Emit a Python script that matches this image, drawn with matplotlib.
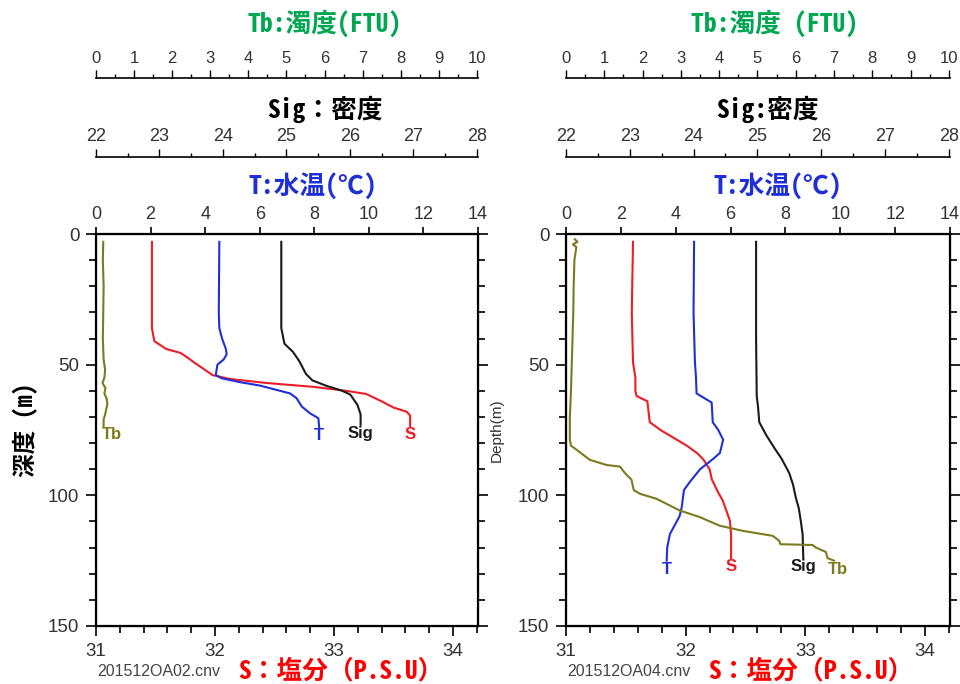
import numpy as np
import matplotlib
matplotlib.use("Agg")
import matplotlib.pyplot as plt
from matplotlib.ticker import MultipleLocator

# ---- data: 201512OA02 ----
oa02_S_depth = [3, 36, 41, 44, 45.5, 47, 49, 51.5, 54, 55.5, 57, 58.5, 60, 61.2, 63.8, 66.4, 68, 69.5, 73.5]
oa02_S = [31.47, 31.47, 31.49, 31.59, 31.71, 31.76, 31.82, 31.90, 31.98, 32.13, 32.43, 32.83, 33.10, 33.27, 33.39, 33.50, 33.61, 33.64, 33.64]
oa02_T_depth = [3, 30, 36, 40, 44, 46, 48, 50, 54, 55.2, 56.7, 58, 60, 61, 62.8, 66, 68.6, 70.5, 74]
oa02_T = [4.52, 4.50, 4.52, 4.62, 4.76, 4.79, 4.68, 4.45, 4.39, 4.60, 5.28, 6.01, 6.74, 7.11, 7.35, 7.54, 7.84, 8.15, 8.18]
oa02_Sig_depth = [3, 36, 42, 45, 48.5, 53.6, 56, 58, 60, 61.5, 65.4, 69, 73]
oa02_Sig = [24.92, 24.92, 24.97, 25.10, 25.20, 25.31, 25.41, 25.62, 25.88, 26.01, 26.12, 26.17, 26.17]
oa02_Tb_depth = [3, 10, 20, 30, 40, 48, 52, 55, 57, 59, 61, 63, 65, 67, 69, 71, 73.5]
oa02_Tb = [0.19, 0.18, 0.20, 0.19, 0.18, 0.20, 0.24, 0.22, 0.17, 0.25, 0.22, 0.28, 0.30, 0.27, 0.24, 0.20, 0.20]

# ---- data: 201512OA04 ----
oa04_S_depth = [3, 30, 49, 55, 60, 62, 64, 68, 72, 75, 78, 81, 84, 86.4, 90, 94, 98.7, 102, 105.8, 109.7, 115, 124]
oa04_S = [31.56, 31.55, 31.56, 31.58, 31.58, 31.59, 31.68, 31.69, 31.70, 31.79, 31.90, 32.01, 32.10, 32.15, 32.20, 32.22, 32.27, 32.31, 32.34, 32.37, 32.38, 32.38]
oa04_T_depth = [3, 30, 49, 55, 61, 64.5, 68, 72, 75, 78.7, 83.8, 86, 90, 94.8, 98, 104.5, 108, 114.8, 120, 125]
oa04_T = [4.67, 4.65, 4.70, 4.74, 4.76, 5.31, 5.33, 5.35, 5.55, 5.73, 5.61, 5.37, 4.89, 4.52, 4.30, 4.22, 4.14, 3.79, 3.69, 3.67]
oa04_Sig_depth = [3, 40, 62, 66, 72, 77, 82, 86, 91.5, 96, 100.6, 105, 109.7, 115, 124]
oa04_Sig = [24.98, 24.98, 24.99, 25.01, 25.03, 25.14, 25.27, 25.38, 25.50, 25.56, 25.60, 25.65, 25.68, 25.71, 25.72]
oa04_Tb_depth = [2, 3, 4, 5, 10, 20, 30, 40, 50, 60, 70, 78.7, 81, 82.6, 86.4, 88.4, 89, 91.5, 94, 98, 99.4, 101.3, 105.8,
                 108.3, 111.6, 113.6, 115.5, 117.4, 118.7, 119, 120, 121.7, 124, 125]
oa04_Tb = [0.23, 0.30, 0.18, 0.27, 0.22, 0.20, 0.19, 0.17, 0.15, 0.13, 0.10, 0.10, 0.13, 0.28, 0.62, 1.06, 1.41, 1.54, 1.71, 1.77,
           1.93, 2.36, 2.97, 3.49, 4.01, 4.62, 5.40, 5.57, 5.60, 6.44, 6.53, 6.79, 6.83, 7.00]

files = ["201512OA02.cnv", "201512OA04.cnv"]
tb_titles = ["Tb:濁度(FTU)", "Tb:濁度 (FTU)"]
sig_titles = ["Sig：密度", "Sig:密度"]

W, H = 960, 684
CJK = ["Noto Sans Mono CJK JP", "Noto Sans CJK JP", "DejaVu Sans"]
NUM = "Liberation Sans"
RED, BLUE, BLACK, OLIVE, GREEN = "#ee1c24", "#1f2fd8", "#1a1a1a", "#7d7a1e", "#00a651"

plt.rcParams["font.family"] = [NUM, "DejaVu Sans"]

fig = plt.figure(figsize=(W / 100, H / 100), dpi=100)


def rect(x0, y0, x1, y1):
    return [x0 / W, 1 - y1 / H, (x1 - x0) / W, (y1 - y0) / H]


def scale_axis(x0, x1, y, lim, major, minor, size):
    a = fig.add_axes([x0 / W, 1 - y / H, (x1 - x0) / W, 0.0001])
    a.set_xlim(*lim)
    a.patch.set_visible(False)
    for s in ["left", "right", "bottom"]:
        a.spines[s].set_visible(False)
    a.spines["top"].set_linewidth(1.2)
    a.set_yticks([])
    a.xaxis.tick_top()
    a.xaxis.set_major_locator(MultipleLocator(major))
    a.xaxis.set_minor_locator(MultipleLocator(minor))
    a.tick_params(axis="x", which="major", direction="out", length=6, width=1, pad=2.5,
                  labelsize=size, labelcolor="#333333")
    a.tick_params(axis="x", which="minor", direction="out", length=3, width=1)
    return a


panels = [
    dict(x0=96, x1=478, S=(oa02_S_depth, oa02_S), T=(oa02_T_depth, oa02_T),
         Sig=(oa02_Sig_depth, oa02_Sig), Tb=(oa02_Tb_depth, oa02_Tb),
         tb_dx=38, sig_dx=38, t_dx=26),
    dict(x0=566, x1=950, S=(oa04_S_depth, oa04_S), T=(oa04_T_depth, oa04_T),
         Sig=(oa04_Sig_depth, oa04_Sig), Tb=(oa04_Tb_depth, oa04_Tb),
         tb_dx=17, sig_dx=10, t_dx=20),
]

for i, p in enumerate(panels):
    x0, x1 = p["x0"], p["x1"]
    ax = fig.add_axes(rect(x0, 234, x1, 626))
    ax.set_xlim(31, 34.21)
    ax.set_ylim(150, 0)
    for s in ax.spines.values():
        s.set_linewidth(1.6)
    ax.xaxis.set_major_locator(MultipleLocator(1))
    ax.xaxis.set_minor_locator(MultipleLocator(0.2))
    ax.yaxis.set_major_locator(MultipleLocator(50))
    ax.yaxis.set_minor_locator(MultipleLocator(10))
    ax.tick_params(which="major", direction="out", length=7, width=1.2, pad=5, labelsize=13.5, labelcolor="#333333",
                   right=True)
    ax.tick_params(which="minor", direction="out", length=5, width=1.2, right=True)

    # temperature on top of the main frame
    axT = ax.twiny()
    axT.set_xlim(0, 14)
    axT.xaxis.set_major_locator(MultipleLocator(2))
    axT.tick_params(axis="x", direction="out", length=5, width=1.2, pad=3, labelsize=13, labelcolor="#333333")
    # sigma and turbidity share the frame with their own scales
    axSig = ax.twiny()
    axSig.set_xlim(22, 28.02)
    axSig.axis("off")
    axTb = ax.twiny()
    axTb.set_xlim(0, 10.03)
    axTb.axis("off")

    lw = 1.5
    ax.plot(p["S"][1], p["S"][0], color=RED, lw=lw)
    axT.plot(p["T"][1], p["T"][0], color=BLUE, lw=lw)
    axSig.plot(p["Sig"][1], p["Sig"][0], color=BLACK, lw=lw)
    axTb.plot(p["Tb"][1], p["Tb"][0], color=OLIVE, lw=lw)
    axT.set_ylim(150, 0)
    axSig.set_ylim(150, 0)
    axTb.set_ylim(150, 0)

    for a, key, lab, col, dx in [(ax, "S", "S", RED, 0), (axT, "T", "T", BLUE, 0), (axSig, "Sig", "Sig", BLACK, 0),
                                 (axTb, "Tb", "Tb", OLIVE, 6 if i == 0 else 3)]:
        d, v = p[key]
        a.annotate(lab, (v[-1], d[-1]), xytext=(dx, -6), textcoords="offset points", ha="center", va="center",
                   color=col, fontsize=12, fontweight="bold", annotation_clip=False)

    # separate scale bars above the frame
    scale_axis(x0, x1, 157, (22, 28.02), 1, 0.5, 13)
    scale_axis(x0, x1, 78, (0, 10.03), 1, 0.5, 12)

    cx = (x0 + x1) / 2
    fig.text((cx + p["tb_dx"]) / W, 1 - 23 / H, tb_titles[i], family=CJK,
             fontsize=18.5, fontweight="bold", color=GREEN, ha="center", va="center")
    fig.text((cx + p["sig_dx"]) / W, 1 - 109 / H, sig_titles[i], family=CJK, fontsize=18.5, fontweight="bold",
             color="black", ha="center", va="center")
    fig.text((cx + p["t_dx"]) / W, 1 - 186 / H, "T:水温(℃)", family=CJK, fontsize=18.5, fontweight="bold",
             color=BLUE, ha="center", va="center")
    fig.text((x0 + 1) / W, 1 - 672 / H, files[i], fontsize=11.5, color="#444444", ha="left", va="center")
    fig.text((x0 + 142) / W, 1 - 671 / H, "S：塩分（P.S.U）", family=CJK, fontsize=18.5, fontweight="bold",
             color="red", ha="left", va="center")

fig.text(25 / W, 1 - 430 / H, "深度 (m)", family=CJK, fontsize=17, fontweight="bold", rotation=90,
         ha="center", va="center")
fig.text(497 / W, 1 - 430 / H, "Depth(m)", fontsize=11, color="#333333", rotation=90, ha="center", va="center")

fig.savefig("out.png", dpi=100)
